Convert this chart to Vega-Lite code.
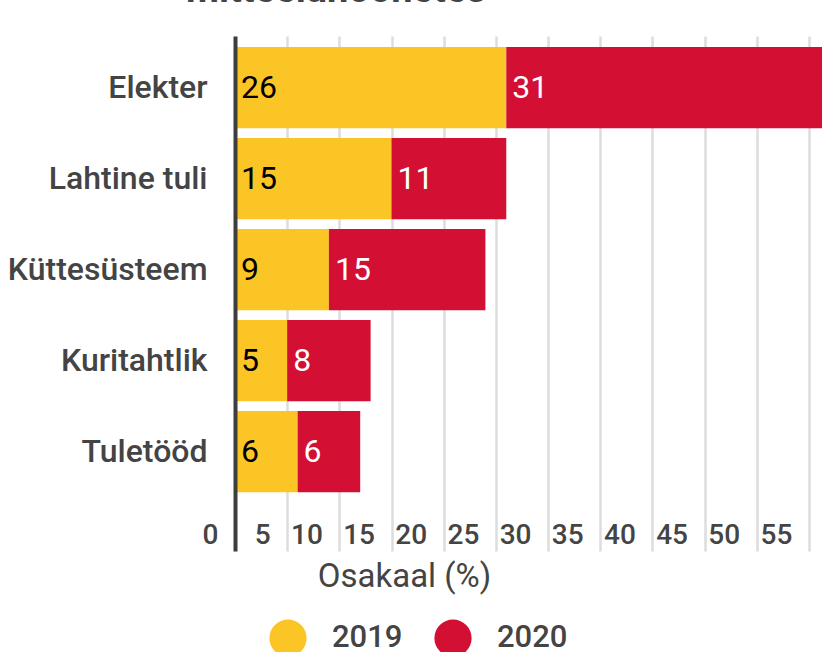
{
  "$schema": "https://vega.github.io/schema/vega-lite/v6.json",
  "width": 626,
  "height": 515,
  "autosize": {"type": "none"},
  "padding": {"left": 235, "top": 36, "right": 0, "bottom": 101},
  "background": "white",
  "title": {
    "text": "mitteeluhoonetes",
    "fontSize": 38,
    "fontWeight": "bold",
    "color": "#444444",
    "font": "Roboto",
    "anchor": "start",
    "frame": "group",
    "align": "left",
    "dx": -49,
    "baseline": "alphabetic",
    "offset": -4
  },
  "config": {
    "view": {"stroke": null},
    "font": "Roboto"
  },
  "data": {
    "values": [
      {"cat": "Elekter", "year": "2019", "value": 26},
      {"cat": "Elekter", "year": "2020", "value": 31},
      {"cat": "Lahtine tuli", "year": "2019", "value": 15},
      {"cat": "Lahtine tuli", "year": "2020", "value": 11},
      {"cat": "Küttesüsteem", "year": "2019", "value": 9},
      {"cat": "Küttesüsteem", "year": "2020", "value": 15},
      {"cat": "Kuritahtlik", "year": "2019", "value": 5},
      {"cat": "Kuritahtlik", "year": "2020", "value": 8},
      {"cat": "Tuletööd", "year": "2019", "value": 6},
      {"cat": "Tuletööd", "year": "2020", "value": 6}
    ]
  },
  "transform": [
    {"stack": "value", "groupby": ["cat"], "sort": [{"field": "year", "order": "ascending"}], "as": ["x0", "x1"]}
  ],
  "encoding": {
    "y": {
      "field": "cat",
      "type": "nominal",
      "sort": null,
      "scale": {"paddingInner": 0.107, "paddingOuter": 0.383, "align": 0.158},
      "axis": {
        "title": null,
        "ticks": false,
        "tickSize": 0,
        "labelPadding": 28,
        "labelLimit": 400,
        "labelFontSize": 32,
        "labelFontWeight": 500,
        "labelColor": "#444444",
        "domainColor": "#3d3d3d",
        "domainWidth": 4,
        "zindex": 2
      }
    }
  },
  "layer": [
    {
      "mark": {"type": "bar"},
      "encoding": {
        "x": {
          "field": "x0",
          "type": "quantitative",
          "scale": {"domain": [0, 60], "nice": false},
          "axis": {
            "title": "Osakaal (%)",
            "values": [0, 5, 10, 15, 20, 25, 30, 35, 40, 45, 50, 55],
            "grid": true,
            "gridColor": "#dddddd",
            "gridWidth": 2.5,
            "domain": false,
            "ticks": false,
            "tickSize": 0,
            "labelAlign": "right",
            "labelOffset": -17,
            "labelBaseline": "alphabetic",
            "labelPadding": -8,
            "labelFontSize": 28,
            "labelFontWeight": 500,
            "labelColor": "#444444",
            "titleFontSize": 33,
            "titleFontWeight": "normal",
            "titleColor": "#444444",
            "titleX": 169,
            "titleY": 35,
            "titleAlign": "center",
            "titleBaseline": "alphabetic",
            "zindex": 0
          }
        },
        "x2": {"field": "x1"},
        "color": {
          "field": "year",
          "type": "nominal",
          "scale": {"domain": ["2019", "2020"], "range": ["#FCC526", "#D30F34"]},
          "legend": {
            "title": null,
            "orient": "none",
            "direction": "horizontal",
            "legendX": 34,
            "legendY": 583,
            "padding": 0,
            "symbolType": "circle",
            "symbolSize": 1385,
            "symbolStrokeWidth": 0,
            "symbolOpacity": 1,
            "labelFontSize": 31,
            "labelFontWeight": 500,
            "labelColor": "#444444",
            "labelOffset": 25,
            "columnPadding": 31
          }
        }
      }
    },
    {
      "mark": {"type": "text", "align": "left", "baseline": "middle", "dx": 6, "fontSize": 32, "fontWeight": "normal"},
      "encoding": {
        "x": {"field": "x0", "type": "quantitative"},
        "text": {"field": "value", "type": "quantitative"},
        "color": {
          "condition": {"test": "datum.year === '2019'", "value": "#000000"},
          "value": "#ffffff"
        }
      }
    }
  ]
}
